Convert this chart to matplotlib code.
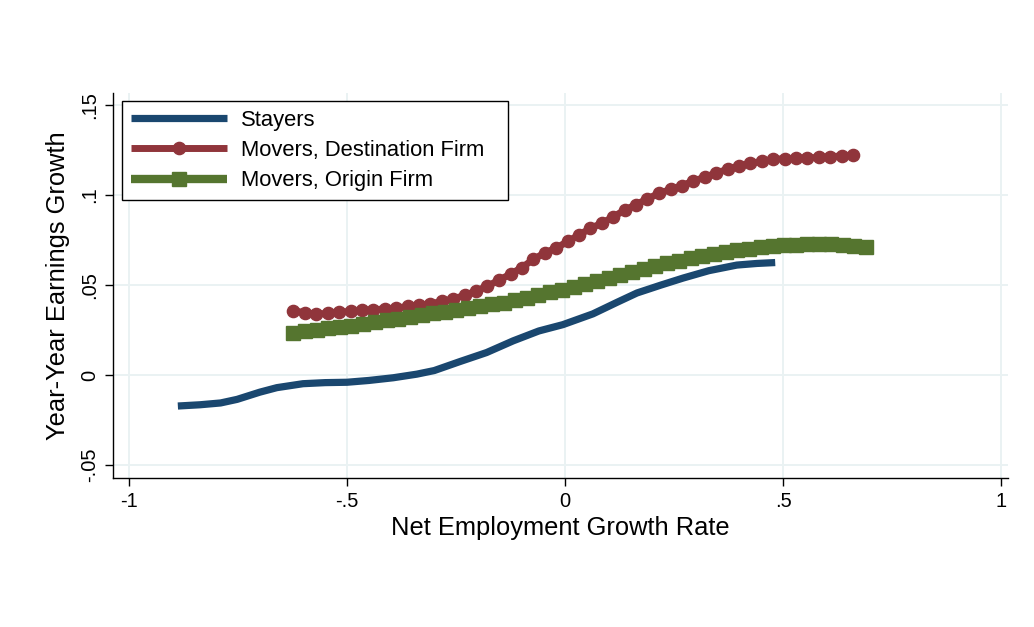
import numpy as np
import matplotlib.pyplot as plt

plt.rcParams['font.family'] = ['Liberation Sans', 'DejaVu Sans']

# Stayers: smoothed earnings growth by net employment growth
stay_x = [-0.888, -0.837, -0.790, -0.752, -0.700, -0.661, -0.601, -0.550, -0.500,
          -0.450, -0.394, -0.340, -0.300, -0.241, -0.180, -0.119, -0.060, -0.005,
          0.064, 0.120, 0.165, 0.220, 0.271, 0.330, 0.394, 0.440, 0.482]
stay_y = [-0.0172, -0.0165, -0.0155, -0.0135, -0.0095, -0.0070, -0.0048, -0.0042, -0.0040,
          -0.0030, -0.0015, 0.0005, 0.0025, 0.0075, 0.0125, 0.0190, 0.0245, 0.0280,
          0.0340, 0.0405, 0.0456, 0.0500, 0.0539, 0.0580, 0.0611, 0.0620, 0.0625]

# Movers, destination firm
dest_x = [-0.623, -0.597, -0.571, -0.544, -0.518, -0.492, -0.466, -0.440, -0.413, -0.387,
          -0.361, -0.335, -0.309, -0.282, -0.256, -0.230, -0.204, -0.178, -0.151, -0.125,
          -0.099, -0.073, -0.047, -0.020, 0.006, 0.032, 0.058, 0.084, 0.111, 0.137,
          0.163, 0.189, 0.215, 0.242, 0.268, 0.294, 0.320, 0.346, 0.373, 0.399,
          0.425, 0.451, 0.477, 0.504, 0.530, 0.556, 0.582, 0.608, 0.635, 0.661]
dest_y = [0.0358, 0.0346, 0.0338, 0.0343, 0.0349, 0.0354, 0.0359, 0.0363, 0.0367, 0.0372,
          0.0381, 0.0387, 0.0396, 0.0409, 0.0424, 0.0442, 0.0467, 0.0494, 0.0528, 0.0561,
          0.0597, 0.0642, 0.0678, 0.0706, 0.0742, 0.0778, 0.0815, 0.0843, 0.0879, 0.0917,
          0.0947, 0.0979, 0.1009, 0.1031, 0.1052, 0.1078, 0.1098, 0.1122, 0.1143, 0.1162,
          0.1176, 0.1187, 0.1198, 0.1202, 0.1204, 0.1206, 0.1209, 0.1213, 0.1217, 0.1222]

# Movers, origin firm
orig_x = [-0.624, -0.597, -0.570, -0.544, -0.517, -0.490, -0.463, -0.436, -0.409, -0.383,
          -0.356, -0.329, -0.302, -0.275, -0.249, -0.222, -0.195, -0.168, -0.141, -0.114,
          -0.088, -0.061, -0.034, -0.007, 0.020, 0.046, 0.073, 0.100, 0.127, 0.154,
          0.181, 0.207, 0.234, 0.261, 0.288, 0.315, 0.341, 0.368, 0.395, 0.422,
          0.449, 0.476, 0.502, 0.529, 0.556, 0.583, 0.610, 0.637, 0.663, 0.690]
orig_y = [0.0236, 0.0244, 0.0251, 0.0259, 0.0266, 0.0274, 0.0284, 0.0294, 0.0304, 0.0314,
          0.0324, 0.0334, 0.0343, 0.0353, 0.0362, 0.0371, 0.0381, 0.0392, 0.0403, 0.0415,
          0.0429, 0.0444, 0.0459, 0.0473, 0.0490, 0.0507, 0.0523, 0.0541, 0.0558, 0.0574,
          0.0591, 0.0606, 0.0622, 0.0636, 0.0648, 0.0659, 0.0671, 0.0682, 0.0692, 0.0701,
          0.0709, 0.0715, 0.0721, 0.0725, 0.0729, 0.0729, 0.0727, 0.0722, 0.0717, 0.0711]

x_ticks = [-1, -0.5, 0, 0.5, 1]
x_labels = ['-1', '-.5', '0', '.5', '1']
y_ticks = [-0.05, 0, 0.05, 0.1, 0.15]
y_labels = ['-.05', '0', '.05', '.1', '.15']

navy = '#1a476f'
maroon = '#90353b'
forest = '#55752f'
grid_col = '#eaf2f3'

fig = plt.figure(figsize=(10.34, 6.27), dpi=100)
ax = fig.add_axes([0.1093, 0.2376, 0.8656, 0.6141])

ax.plot(stay_x, stay_y, color=navy, lw=5.2, solid_capstyle='butt', label='Stayers')
ax.plot(dest_x, dest_y, color=maroon, lw=5, marker='o', ms=8.8,
        solid_capstyle='butt', label='Movers, Destination Firm')
ax.plot(orig_x, orig_y, color=forest, lw=6, marker='s', ms=10.5,
        solid_capstyle='butt', label='Movers, Origin Firm')

ax.set_xlim(-1.0367, 1.016)
ax.set_ylim(-0.0572, 0.1567)
ax.set_xticks(x_ticks)
ax.set_xticklabels(x_labels)
ax.set_yticks(y_ticks)
ax.set_yticklabels(y_labels, rotation=90, va='center')

ax.grid(True, color=grid_col, lw=1.4)
ax.set_axisbelow(True)
for side in ['top', 'right']:
    ax.spines[side].set_visible(False)
for side in ['left', 'bottom']:
    ax.spines[side].set_linewidth(1.0)
ax.tick_params(direction='out', length=6, width=1.0, labelsize=14.5, pad=4)

ax.set_xlabel('Net Employment Growth Rate', fontsize=18.4, labelpad=4)
ax.set_ylabel('Year-Year Earnings Growth', fontsize=18.4, labelpad=7)

# legend box stretched to a fixed width inside the plot region
leg = ax.legend(loc='upper left', bbox_to_anchor=(0.0101, 0.5, 0.4313, 0.479),
                mode='expand', borderaxespad=0, fontsize=15.8, numpoints=1,
                handlelength=4.4, handletextpad=0.6, labelspacing=0.42,
                borderpad=0.4, fancybox=False, framealpha=1)
leg.get_frame().set_edgecolor('black')
leg.get_frame().set_linewidth(1.0)

fig.savefig('out.png', dpi=100, facecolor='white')
